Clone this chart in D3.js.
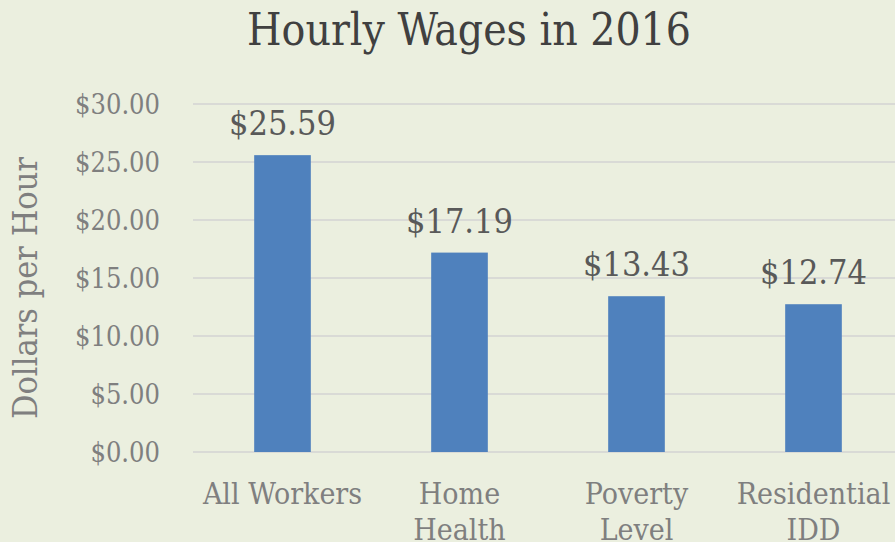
<!DOCTYPE html>
<html>
<head>
<meta charset="utf-8">
<script src="https://cdn.jsdelivr.net/npm/d3@7"></script>
<style>
  body { margin: 0; background: #EBEFDF; }
  text { font-family: "DejaVu Serif", "Liberation Serif", serif; font-stretch: condensed; }
</style>
</head>
<body>
<div id="chart"></div>
<script>
var categories = [["All Workers"], ["Home", "Health"], ["Poverty", "Level"], ["Residential", "IDD"]];
var wages = [25.59, 17.19, 13.43, 12.74];
var yTicks = [0, 5, 10, 15, 20, 25, 30];

var width = 895, height = 542;

var svg = d3.select("#chart")
  .append("svg")
  .attr("width", width)
  .attr("height", height);

svg.append("rect")
  .attr("width", width)
  .attr("height", height)
  .attr("fill", "#EBEFDF");

var x = d3.scaleBand()
  .domain(categories.map(function (d) { return d.join(" "); }))
  .range([194, 902])
  .paddingInner(0.68)
  .paddingOuter(0.34);

var y = d3.scaleLinear()
  .domain([0, 30])
  .range([452, 104]);

// gridlines
svg.append("g")
  .selectAll("line")
  .data(yTicks)
  .enter()
  .append("line")
  .attr("x1", 193)
  .attr("x2", width)
  .attr("y1", function (d) { return y(d); })
  .attr("y2", function (d) { return y(d); })
  .attr("stroke", "#D9DAD6")
  .attr("stroke-width", 2);

// y axis labels
var yAxis = d3.axisLeft(y)
  .tickValues(yTicks)
  .tickSize(0)
  .tickPadding(0)
  .tickFormat(function (d) { return "$" + d3.format(".2f")(d); });

var gy = svg.append("g")
  .attr("transform", "translate(160,0)")
  .call(yAxis);
gy.select(".domain").remove();
gy.attr("font-family", null).attr("font-size", null);
gy.selectAll("text")
  .attr("fill", "#7F7F7F")
  .style("font-size", "27px")
  .attr("dy", "0.36em");

// bars
svg.selectAll(".bar")
  .data(wages)
  .enter()
  .append("rect")
  .attr("class", "bar")
  .attr("x", function (d, i) { return x(categories[i].join(" ")); })
  .attr("width", x.bandwidth())
  .attr("y", function (d) { return y(d); })
  .attr("height", function (d) { return y(0) - y(d); })
  .attr("fill", "#4F81BD");

// value labels
svg.selectAll(".val")
  .data(wages)
  .enter()
  .append("text")
  .attr("class", "val")
  .attr("x", function (d, i) { return x(categories[i].join(" ")) + x.bandwidth() / 2; })
  .attr("y", function (d) { return y(d) - 20; })
  .attr("text-anchor", "middle")
  .attr("fill", "#595959")
  .style("font-size", "34px")
  .text(function (d) { return "$" + d3.format(".2f")(d); });

// category labels
var cat = svg.selectAll(".cat")
  .data(categories)
  .enter()
  .append("text")
  .attr("class", "cat")
  .attr("x", function (d) { return x(d.join(" ")) + x.bandwidth() / 2; })
  .attr("y", 504)
  .attr("text-anchor", "middle")
  .attr("fill", "#7F7F7F")
  .style("font-size", "30px");

cat.selectAll("tspan")
  .data(function (d) { return d; })
  .enter()
  .append("tspan")
  .attr("x", function () { return d3.select(this.parentNode).attr("x"); })
  .attr("dy", function (d, i) { return i === 0 ? 0 : 36; })
  .text(function (d) { return d; });

// title
svg.append("text")
  .attr("x", 469)
  .attr("y", 45)
  .attr("text-anchor", "middle")
  .attr("fill", "#404040")
  .style("font-size", "44px")
  .text("Hourly Wages in 2016");

// y axis title
svg.append("text")
  .attr("transform", "translate(37,288) rotate(-90)")
  .attr("text-anchor", "middle")
  .attr("fill", "#7F7F7F")
  .style("font-size", "34px")
  .text("Dollars per Hour");
</script>
</body>
</html>
